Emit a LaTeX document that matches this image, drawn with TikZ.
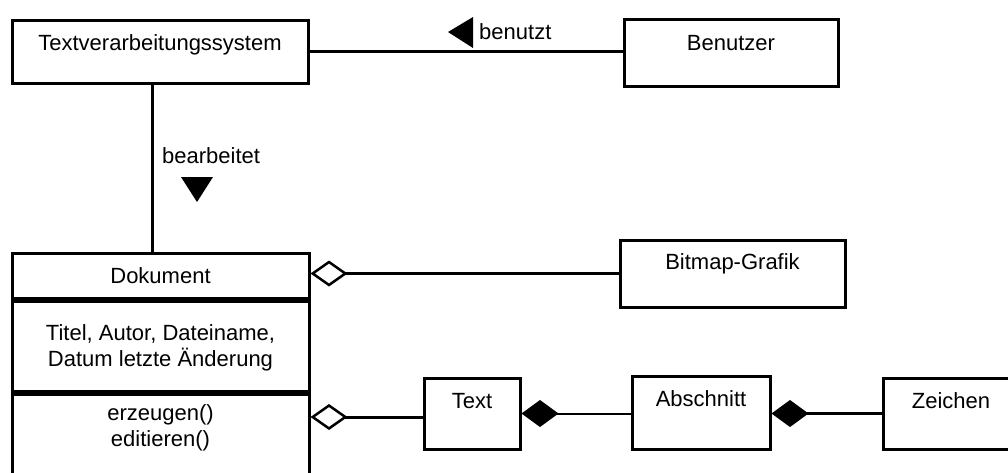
\documentclass[tikz,border=0pt]{standalone}
\usepackage{fontspec}
\setmainfont{Liberation Sans}
\usetikzlibrary{arrows.meta, positioning}

\begin{document}
\begin{tikzpicture}[
        x=1pt, y=-1pt,
        every node/.style={font=\fontsize{22}{25.5}\selectfont, align=center},
        box/.style={draw, line width=3pt, inner sep=0pt, text height=30pt},
        line/.style={line width=3pt},
        agg/.style={line width=3pt, -{Diamond[open, length=37pt, width=26pt, line width=2.5pt]}},
        comp/.style={line width=3pt, -{Diamond[length=37pt, width=27pt]}}
    ]
    \clip (0,0) rectangle (1008,472);

    % Classes
    \node[box, minimum width=296pt, text depth=33pt] (tvs) at (160,51.5) {Textverarbeitungssystem};
    \node[box, minimum width=214pt, text depth=36pt, text height=31pt] (benutzer) at (731,52.5) {Benutzer};
    \node[box, minimum width=297pt, text depth=15pt] (dokname) at (160.5,275.5) {Dokument};
    \node[box, below=0pt of dokname, minimum width=297pt, text height=65pt, text depth=25pt] (dokattr) {Titel, Autor, Dateiname,\\Datum letzte Änderung};
    \node[box, below=0pt of dokattr, minimum width=297pt, text height=52pt, text depth=40pt] (dokops) {erzeugen()\\editieren()};
    \node[box, minimum width=225pt, text height=29pt, text depth=38pt] (bitmap) at (732.5,273.5) {Bitmap-Grafik};
    \node[box, minimum width=96pt, text depth=41pt] (textbox) at (472,413.5) {Text};
    \node[box, minimum width=138pt, text depth=43pt] (abschnitt) at (701,412.5) {Abschnitt};
    \node[box, minimum width=136pt, text depth=41pt] (zeichen) at (951,413.5) {Zeichen};

    % Associations
    \draw[line] (tvs.east) -- (tvs.east -| benutzer.west);
    \node[anchor=base west, inner sep=0pt] (benutzt) at (479,39) {benutzt};
    \fill (448,32) -- (473,17) -- (473,48) -- cycle;

    \draw[line] ([xshift=-8pt]tvs.south) -- ([xshift=-8pt]tvs.south |- dokname.north);
    \node[anchor=base west, inner sep=0pt] (bearbeitet) at (162,163) {bearbeitet};
    \fill (181,177) -- (213,177) -- (197,202) -- cycle;

    % Aggregation / composition
    \draw[agg] (bitmap.west) -- (bitmap.west -| dokname.east);
    \draw[agg] ([yshift=-3.5pt]textbox.west) -- ([yshift=-3.5pt]textbox.west -| dokops.east);
    \draw[comp, line width=2pt] (textbox.east -| abschnitt.west) -- (textbox.east);
    \draw[comp] (zeichen.west) -- (zeichen.west -| abschnitt.east);

\end{tikzpicture}
\end{document}
